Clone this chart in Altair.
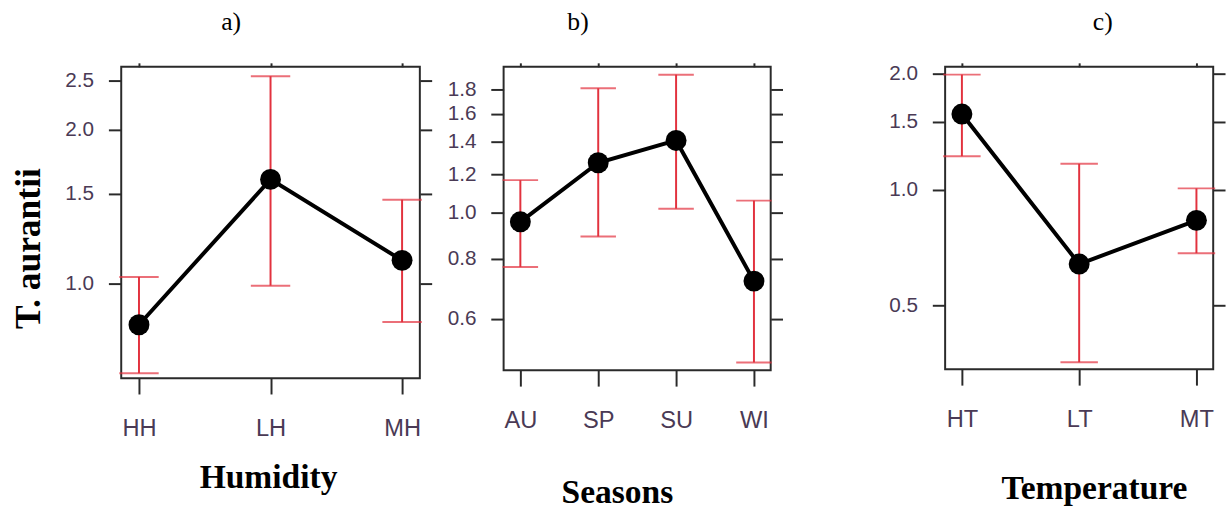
import altair as alt
import pandas as pd

# ---- data ----
hum_cat = ["HH", "LH", "MH"]
hum_mean = [0.83, 1.60, 1.11]
hum_lo = [0.667, 0.99, 0.84]
hum_hi = [1.03, 2.55, 1.46]

sea_cat = ["AU", "SP", "SU", "WI"]
sea_mean = [0.955, 1.267, 1.41, 0.719]
sea_lo = [0.769, 0.89, 1.017, 0.487]
sea_hi = [1.166, 1.81, 1.932, 1.057]

tem_cat = ["HT", "LT", "MT"]
tem_mean = [1.569, 0.641, 0.832]
tem_lo = [1.22, 0.357, 0.684]
tem_hi = [1.985, 1.166, 1.007]

hum_ticks = [1.0, 1.5, 2.0, 2.5]
sea_ticks = [0.6, 0.8, 1.0, 1.2, 1.4, 1.6, 1.8]
tem_ticks = [0.5, 1.0, 1.5, 2.0]

RED = "#e2323e"
LABEL = "#4a3a55"
FRAME = "#2a2a2a"
NARROW = "'Liberation Sans Narrow', 'Liberation Sans', sans-serif"
SERIF = "'Liberation Serif', 'Times New Roman', serif"


def panel(cats, mean, lo, hi, ptitle, title_dx, xtitle, xtitle_x, xtitle_pad,
          ytitle, ydomain, yticks, w, h, pad, cap):
    df = pd.DataFrame({"cat": cats, "mean": mean, "lo": lo, "hi": hi})
    xs = alt.Scale(type="point", domain=cats, padding=pad)
    ys = alt.Scale(type="log", domain=ydomain, nice=False, zero=False)
    base = alt.Chart(df)

    x_none = alt.X("cat:N", scale=xs, axis=None)

    bottom_kw = dict(orient="bottom", title=xtitle, labelAngle=0, domain=False,
                     tickSize=16, tickWidth=2, tickColor=FRAME,
                     labelFont=NARROW, labelFontSize=24, labelColor=LABEL,
                     labelPadding=23,
                     titleFont=SERIF, titleFontSize=34, titleFontWeight="bold",
                     titleColor="black", titlePadding=xtitle_pad, titleX=xtitle_x)
    x_bottom = alt.X("cat:N", scale=xs, axis=alt.Axis(**bottom_kw))
    x_top = alt.X("cat:N", scale=xs, axis=alt.Axis(
        orient="top", title=None, labels=False, domain=False,
        tickSize=4, tickWidth=2, tickColor=FRAME))

    left_kw = dict(orient="left", values=yticks, format=".1f", domain=False,
                   tickSize=13, tickWidth=2, tickColor=FRAME,
                   labelFont=NARROW, labelFontSize=21, labelColor=LABEL,
                   labelPadding=15, grid=False)
    if ytitle:
        left_kw.update(title=ytitle, titleFont=SERIF, titleFontSize=36,
                       titleFontWeight="bold", titleColor="black",
                       titlePadding=18, titleY=184)
    else:
        left_kw.update(title=None)
    y_left = alt.Y("mean:Q", scale=ys, axis=alt.Axis(**left_kw))
    y_right = alt.Y("mean:Q", scale=ys, axis=alt.Axis(
        orient="right", values=yticks, labels=False, title=None, domain=False,
        tickSize=12, tickWidth=2, tickColor=FRAME, grid=False))

    rule = base.mark_rule(color=RED, strokeWidth=2).encode(
        x=x_none, y=alt.Y("lo:Q", scale=ys, axis=None), y2="hi:Q")
    cap_lo = base.mark_tick(color=RED, thickness=2, size=cap).encode(
        x=x_none, y=alt.Y("lo:Q", scale=ys, axis=None))
    cap_hi = base.mark_tick(color=RED, thickness=2, size=cap).encode(
        x=x_none, y=alt.Y("hi:Q", scale=ys, axis=None))
    line = base.mark_line(color="black", strokeWidth=4).encode(
        x=x_top, y=y_right)
    pts = base.mark_point(filled=True, color="black", size=450, opacity=1).encode(
        x=x_bottom, y=y_left)

    return alt.layer(rule, cap_lo, cap_hi, line, pts).resolve_axis(
        x="independent", y="independent"
    ).properties(
        width=w, height=h,
        title=alt.TitleParams(ptitle, font=SERIF, fontSize=26, fontWeight="normal",
                              color="black", anchor="middle", frame="group",
                              dx=title_dx, baseline="alphabetic", offset=6),
    )


pa = panel(hum_cat, hum_mean, hum_lo, hum_hi, "a)", -40, "Humidity", 149, 21,
           "T. aurantii", [0.652, 2.66], hum_ticks, 303, 316, 0.135, 40)
pb = panel(sea_cat, sea_mean, sea_lo, sea_hi, "b)", -60, "Seasons", 115, 44,
           None, [0.469, 2.006], sea_ticks, 271, 308, 0.215, 36)
pc = panel(tem_cat, tem_mean, tem_lo, tem_hi, "c)", 24, "Temperature", 151, 41,
           None, [0.342, 2.08], tem_ticks, 272, 307, 0.143, 38)

chart = alt.hconcat(alt.hconcat(pa, pb, spacing=12), pc, spacing=104).properties(
    padding={"left": 9, "top": 5, "right": 0, "bottom": 0},
    background="white",
).configure_view(
    stroke=FRAME, strokeWidth=2
)

chart.save("out.html", embed_options={"renderer": "svg", "actions": False})
